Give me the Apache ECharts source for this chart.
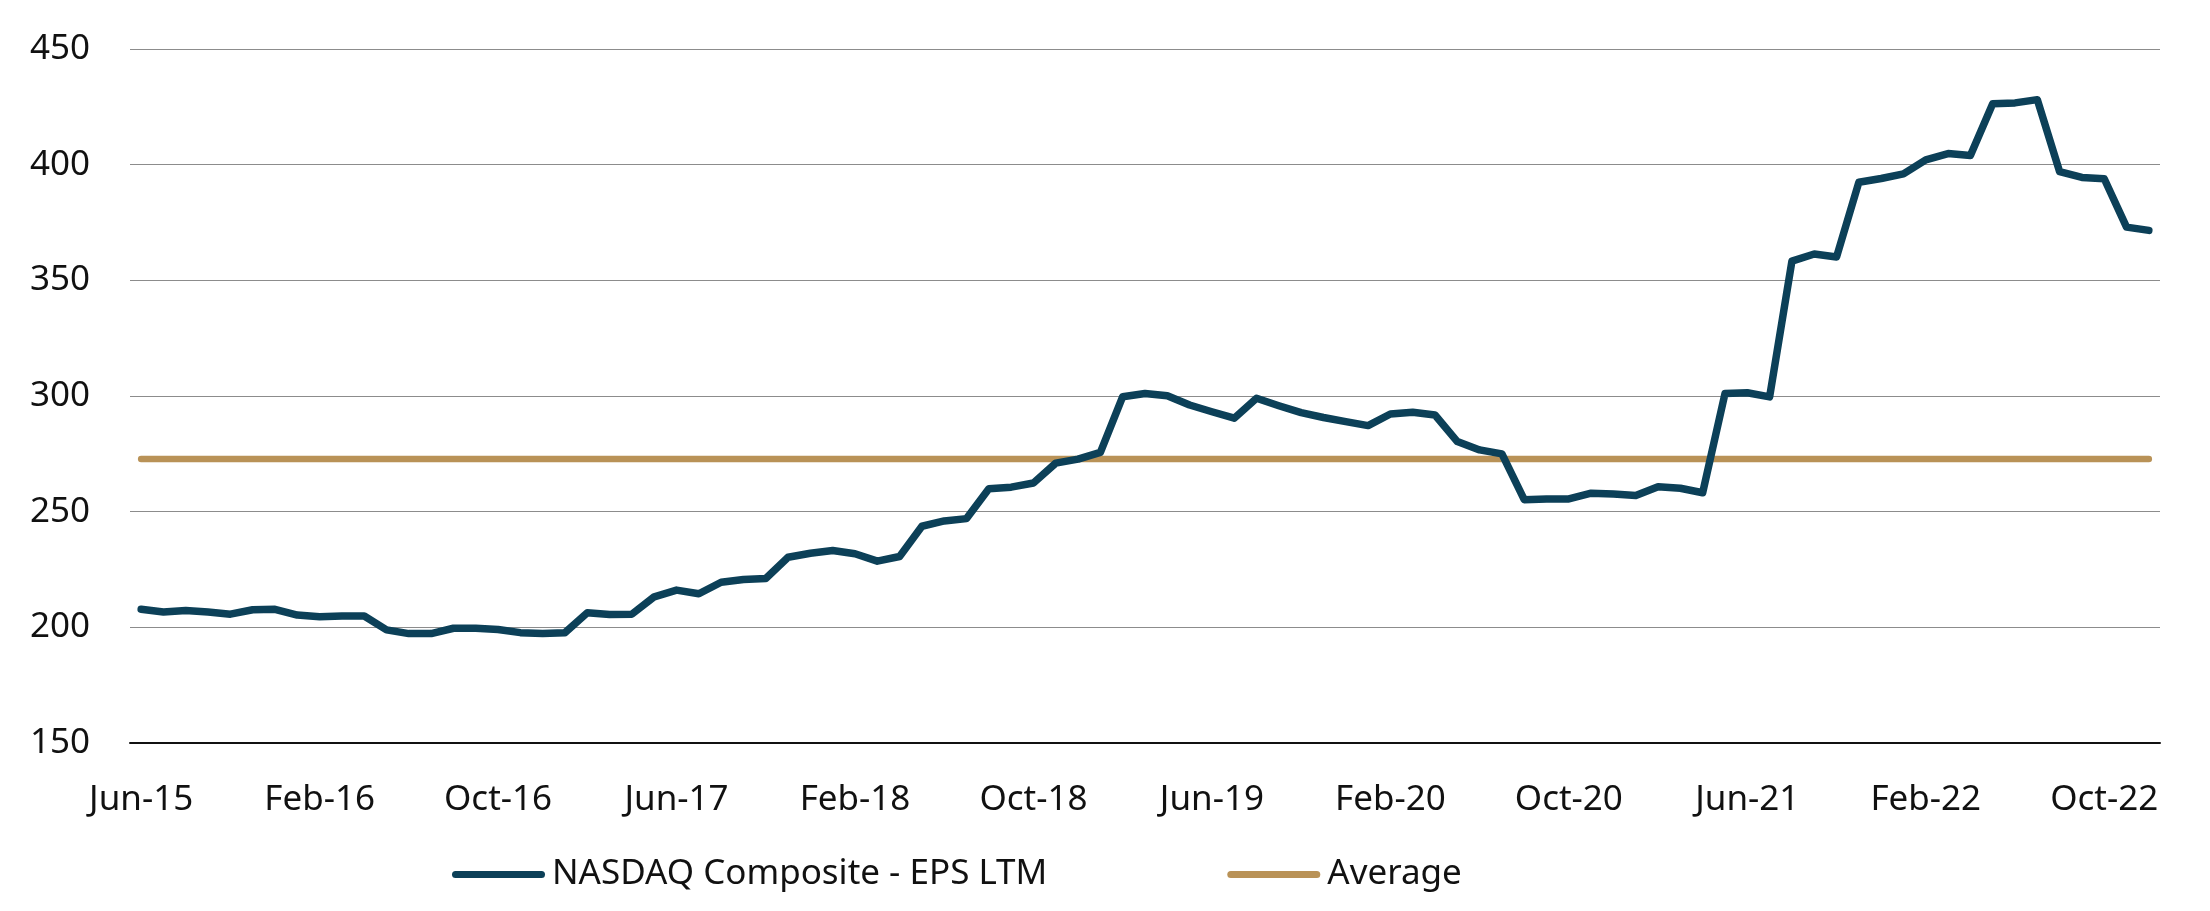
<!DOCTYPE html>
<html>
<head>
<meta charset="utf-8">
<script src="https://cdn.jsdelivr.net/npm/echarts@6/dist/echarts.min.js"></script>
<style>
  html, body { margin: 0; padding: 0; background: #ffffff; }
  #chart { width: 2210px; height: 911px; }
</style>
</head>
<body>
<div id="chart"></div>
<script>
const categories = [
  'Jun-15','Jul-15','Aug-15','Sep-15','Oct-15','Nov-15','Dec-15',
  'Jan-16','Feb-16','Mar-16','Apr-16','May-16','Jun-16','Jul-16','Aug-16','Sep-16','Oct-16','Nov-16','Dec-16',
  'Jan-17','Feb-17','Mar-17','Apr-17','May-17','Jun-17','Jul-17','Aug-17','Sep-17','Oct-17','Nov-17','Dec-17',
  'Jan-18','Feb-18','Mar-18','Apr-18','May-18','Jun-18','Jul-18','Aug-18','Sep-18','Oct-18','Nov-18','Dec-18',
  'Jan-19','Feb-19','Mar-19','Apr-19','May-19','Jun-19','Jul-19','Aug-19','Sep-19','Oct-19','Nov-19','Dec-19',
  'Jan-20','Feb-20','Mar-20','Apr-20','May-20','Jun-20','Jul-20','Aug-20','Sep-20','Oct-20','Nov-20','Dec-20',
  'Jan-21','Feb-21','Mar-21','Apr-21','May-21','Jun-21','Jul-21','Aug-21','Sep-21','Oct-21','Nov-21','Dec-21',
  'Jan-22','Feb-22','Mar-22','Apr-22','May-22','Jun-22','Jul-22','Aug-22','Sep-22','Oct-22','Nov-22','Dec-22'
];

const epsLTM = [
  207.8, 206.6, 207.3, 206.6, 205.7, 207.6, 207.8,
  205.3, 204.6, 204.9, 204.9, 198.9, 197.3, 197.3, 199.6, 199.6, 199.1, 197.7, 197.3,
  197.7, 206.3, 205.5, 205.7, 213.2, 216.1, 214.5, 219.5, 220.7, 221.1, 230.3, 232.0,
  233.2, 231.8, 228.6, 230.6, 243.7, 246.0, 247.0, 259.9, 260.6, 262.4, 271.0, 272.7,
  275.6, 299.7, 301.1, 300.1, 296.1, 293.2, 290.4, 299.0, 295.8, 292.8, 290.7, 288.9,
  287.2, 292.2, 293.0, 291.8, 280.3, 276.7, 275.0, 255.2, 255.5, 255.5, 258.0, 257.6,
  257.0, 260.8, 260.1, 258.2, 301.1, 301.4, 299.6, 358.3, 361.4, 360.1, 392.4, 394.0,
  396.0, 402.1, 404.8, 404.0, 426.3, 426.7, 428.1, 397.0, 394.5, 393.9, 373.0, 371.6
];

const averageValue = [272.8];
const averageLine = categories.map(() => averageValue[0]);

const seriesNames = ['NASDAQ Composite - EPS LTM', 'Average'];
const yTicks = [150, 200, 250, 300, 350, 400, 450];

const FONT = '"Noto Sans", "Open Sans", sans-serif';
const capsule = 'path://M3.5,0 L89.5,0 A3.5,3.5 0 0 1 89.5,7 L3.5,7 A3.5,3.5 0 0 1 3.5,0 Z';

const chart = echarts.init(document.getElementById('chart'), null, { renderer: 'canvas' });
chart.setOption({
  animation: false,
  backgroundColor: '#ffffff',
  grid: { left: 130, right: 50, top: 49, bottom: 168, containLabel: false },
  legend: {
    data: seriesNames.map(n => ({ name: n, icon: capsule })),
    left: 447,
    top: 852,
    itemWidth: 93,
    itemHeight: 8,
    itemGap: 180,
    textStyle: { fontFamily: FONT, fontSize: 35, color: '#111111', padding: [0, 0, 0, 2] }
  },
  xAxis: {
    type: 'category',
    data: categories,
    boundaryGap: true,
    axisLine: { show: true, lineStyle: { color: '#111111', width: 2 } },
    axisTick: { show: false },
    axisLabel: {
      interval: 7,
      margin: 40,
      fontFamily: FONT,
      fontSize: 35,
      color: '#111111'
    },
    splitLine: { show: false }
  },
  yAxis: {
    type: 'value',
    min: yTicks[0],
    max: yTicks[yTicks.length - 1],
    interval: 50,
    axisLine: { show: false },
    axisTick: { show: false },
    axisLabel: { margin: 40, fontFamily: FONT, fontSize: 35, color: '#111111' },
    splitLine: { show: true, lineStyle: { color: '#8c8c8c', width: 1.2 } }
  },
  series: [
    {
      name: seriesNames[0],
      type: 'line',
      data: epsLTM,
      symbol: 'none',
      smooth: false,
      z: 3,
      itemStyle: { color: '#0c4058' },
      lineStyle: { color: '#0c4058', width: 7.5, cap: 'round', join: 'round' }
    },
    {
      name: seriesNames[1],
      type: 'line',
      data: averageLine,
      symbol: 'none',
      z: 2,
      itemStyle: { color: '#b99257' },
      lineStyle: { color: '#b99257', width: 6.5, cap: 'round', join: 'round' }
    }
  ]
});
</script>
</body>
</html>
